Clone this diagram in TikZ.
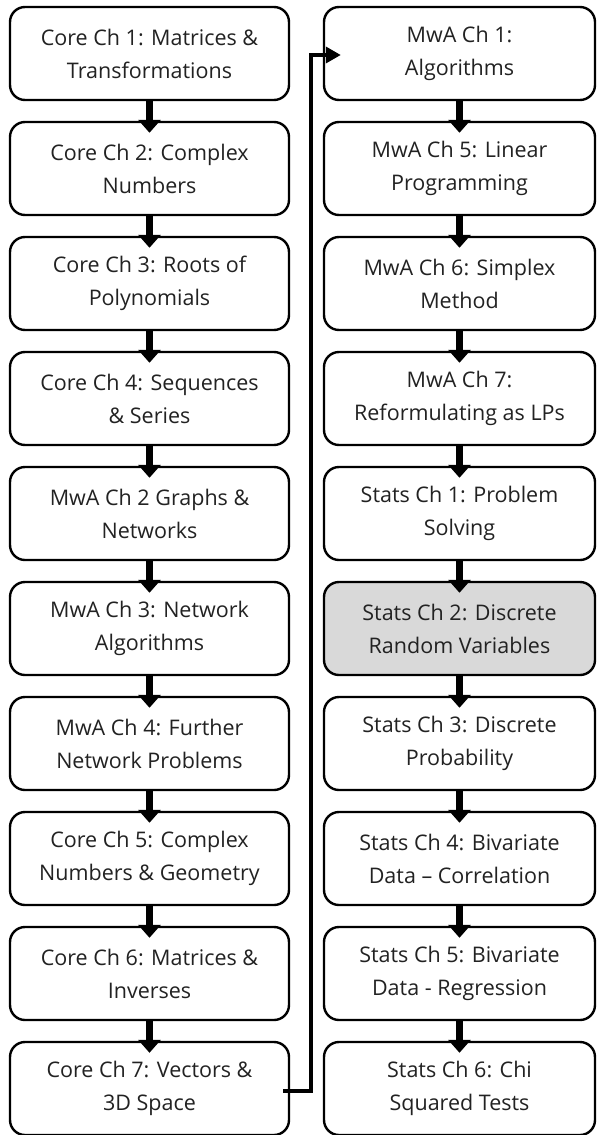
\documentclass[tikz,border=0pt]{standalone}
\usepackage{fontspec}
\setmainfont{Open Sans}
\usetikzlibrary{arrows.meta}
\definecolor{boxgrey}{HTML}{D9D9D9}
\definecolor{inkgrey}{HTML}{222222}

\begin{document}
\begin{tikzpicture}[x=1pt, y={(0pt,-1pt)},
	chapter/.style={draw=black, line width=2.4pt, rounded corners=15pt, fill=white,
		minimum height=93pt, align=center, text=inkgrey,
		font=\fontsize{21.5}{33}\selectfont},
	leftbox/.style={chapter, minimum width=279pt},
	rightbox/.style={chapter, minimum width=271pt},
	nextarrow/.style={line width=7pt, -{Triangle[width=22pt,length=13pt]}},
	jumparrow/.style={line width=3.5pt, -{Triangle[width=16pt,length=15pt]}}]
		%%%%% START %%%%%
		
		\useasboundingbox (0, 0) rectangle (597, 1135);
		
		% left column
		\node[leftbox] (l1) at (149.5, 53.5) {Core Ch 1: Matrices \&\\Transformations};
		\node[leftbox] (l2) at (149.5, 168.5) {Core Ch 2: Complex\\Numbers};
		\node[leftbox] (l3) at (149.5, 283.5) {Core Ch 3: Roots of\\Polynomials};
		\node[leftbox] (l4) at (149.5, 398.5) {Core Ch 4: Sequences\\\& Series};
		\node[leftbox] (l5) at (149.5, 513.5) {MwA Ch 2 Graphs \&\\Networks};
		\node[leftbox] (l6) at (149.5, 628.5) {MwA Ch 3: Network\\Algorithms};
		\node[leftbox] (l7) at (149.5, 743.5) {MwA Ch 4: Further\\Network Problems};
		\node[leftbox] (l8) at (149.5, 858.5) {Core Ch 5: Complex\\Numbers \& Geometry};
		\node[leftbox] (l9) at (149.5, 973.5) {Core Ch 6: Matrices \&\\Inverses};
		\node[leftbox] (l10) at (149.5, 1088.5) {Core Ch 7: Vectors \&\\3D Space};
		
		% right column
		\node[rightbox] (r1) at (459.5, 53.5) {MwA Ch 1:\\Algorithms};
		\node[rightbox] (r2) at (459.5, 168.5) {MwA Ch 5: Linear\\Programming};
		\node[rightbox] (r3) at (459.5, 283.5) {MwA Ch 6: Simplex\\Method};
		\node[rightbox] (r4) at (459.5, 398.5) {MwA Ch 7:\\Reformulating as LPs};
		\node[rightbox] (r5) at (459.5, 513.5) {Stats Ch 1: Problem\\Solving};
		\node[rightbox, fill=boxgrey] (r6) at (459.5, 628.5) {Stats Ch 2: Discrete\\Random Variables};
		\node[rightbox] (r7) at (459.5, 743.5) {Stats Ch 3: Discrete\\Probability};
		\node[rightbox] (r8) at (459.5, 858.5) {Stats Ch 4: Bivariate\\Data – Correlation};
		\node[rightbox] (r9) at (459.5, 973.5) {Stats Ch 5: Bivariate\\Data - Regression};
		\node[rightbox] (r10) at (459.5, 1088.5) {Stats Ch 6: Chi\\Squared Tests};
		
		% arrows down the columns
		\draw[nextarrow] (l1.south) -- ([yshift=-12pt]l2.north);
		\draw[nextarrow] (l2.south) -- ([yshift=-12pt]l3.north);
		\draw[nextarrow] (l3.south) -- ([yshift=-12pt]l4.north);
		\draw[nextarrow] (l4.south) -- ([yshift=-12pt]l5.north);
		\draw[nextarrow] (l5.south) -- ([yshift=-12pt]l6.north);
		\draw[nextarrow] (l6.south) -- ([yshift=-12pt]l7.north);
		\draw[nextarrow] (l7.south) -- ([yshift=-12pt]l8.north);
		\draw[nextarrow] (l8.south) -- ([yshift=-12pt]l9.north);
		\draw[nextarrow] (l9.south) -- ([yshift=-12pt]l10.north);
		
		\draw[nextarrow] (r1.south) -- ([yshift=-12pt]r2.north);
		\draw[nextarrow] (r2.south) -- ([yshift=-12pt]r3.north);
		\draw[nextarrow] (r3.south) -- ([yshift=-12pt]r4.north);
		\draw[nextarrow] (r4.south) -- ([yshift=-12pt]r5.north);
		\draw[nextarrow] (r5.south) -- ([yshift=-12pt]r6.north);
		\draw[nextarrow] (r6.south) -- ([yshift=-12pt]r7.north);
		\draw[nextarrow] (r7.south) -- ([yshift=-12pt]r8.north);
		\draw[nextarrow] (r8.south) -- ([yshift=-12pt]r9.north);
		\draw[nextarrow] (r9.south) -- ([yshift=-12pt]r10.north);
		
		% jump from the left column to the right one
		\coordinate (jumpdown) at (311, 1091);
		\coordinate (jumpup) at (311, 55);
		\draw[jumparrow] ([xshift=-7pt]l10.east |- jumpdown) -- (jumpdown) -- (jumpup) -- ([xshift=18pt]r1.west |- jumpup);
		
		%%%%% END %%%%%
	\end{tikzpicture}
\end{document}
